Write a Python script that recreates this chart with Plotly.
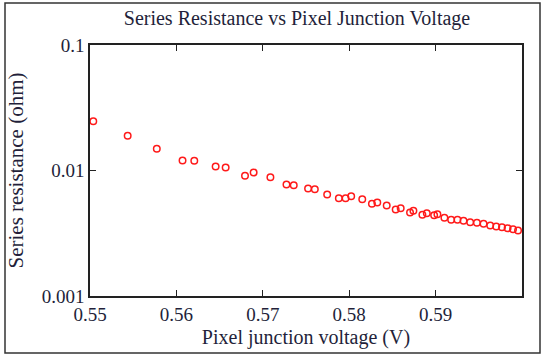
import plotly.graph_objects as go

voltage = [0.55038, 0.55436, 0.55773, 0.56071, 0.56207, 0.56454, 0.56570, 0.56794, 0.56894,
           0.57088, 0.57274, 0.57358, 0.57524, 0.57602, 0.57745, 0.57880, 0.57958, 0.58023,
           0.58151, 0.58263, 0.58325, 0.58434, 0.58538, 0.58596, 0.58704, 0.58743, 0.58847,
           0.58898, 0.58983, 0.59021, 0.59102, 0.59180, 0.59253, 0.59323, 0.59400, 0.59478,
           0.59555, 0.59632, 0.59702, 0.59768, 0.59833, 0.59896, 0.59954]
resistance = [0.0247, 0.0189, 0.0149, 0.0120, 0.01195, 0.01076, 0.01057, 0.00907, 0.00964,
              0.00884, 0.00774, 0.00764, 0.00719, 0.00710, 0.00644, 0.00602, 0.00602, 0.00624,
              0.00591, 0.00543, 0.00556, 0.00526, 0.00489, 0.00501, 0.00463, 0.00477, 0.00444,
              0.00457, 0.00440, 0.00449, 0.00420, 0.00405, 0.00405, 0.00397, 0.00387, 0.00383,
              0.00376, 0.00365, 0.00358, 0.00353, 0.00347, 0.00341, 0.00333]

x_ticks = [0.55, 0.56, 0.57, 0.58, 0.59]
x_ticklabels = ["0.55", "0.56", "0.57", "0.58", "0.59"]
y_ticks = [0.001, 0.01, 0.1]
y_ticklabels = ["0.001", "0.01", "0.1"]

txt = "#231f3a"
serif = "Liberation Serif"

fig = go.Figure()
fig.add_trace(go.Scatter(
    x=voltage, y=resistance, mode="markers",
    marker=dict(symbol="circle-open", size=6.5, color="#ff1a1a", line=dict(width=1.5, color="#ff1a1a")),
    showlegend=False, cliponaxis=False,
))

fig.update_layout(
    width=543, height=356,
    margin=dict(l=90, r=21, t=45, b=60),
    paper_bgcolor="white", plot_bgcolor="white",
    title=dict(text="Series Resistance vs Pixel Junction Voltage", x=297 / 543, xanchor="center",
               xref="container", y=1 - 18 / 356, yanchor="middle", yref="container",
               font=dict(family=serif, size=20, color=txt)),
    font=dict(family=serif, color=txt),
)
fig.update_xaxes(
    range=[0.55, 0.6], tickvals=x_ticks, ticktext=x_ticklabels,
    ticks="inside", ticklen=6, tickwidth=1.3, tickcolor="#222",
    showline=True, linecolor="#222", linewidth=1.5, mirror="ticks",
    showgrid=False, zeroline=False,
    tickfont=dict(family=serif, size=19, color=txt),
    title=dict(text="Pixel junction voltage (V)", font=dict(family=serif, size=20, color=txt), standoff=6),
)
fig.update_yaxes(
    type="log", range=[-3, -1], tickvals=y_ticks, ticktext=y_ticklabels,
    ticks="inside", ticklen=6, tickwidth=1.3, tickcolor="#222",
    showline=True, linecolor="#222", linewidth=1.5, mirror="ticks",
    showgrid=False, zeroline=False,
    tickfont=dict(family=serif, size=19, color=txt),
    title=dict(text="Series resistance (ohm)", font=dict(family=serif, size=21, color=txt), standoff=12),
)
fig.add_shape(type="rect", xref="paper", yref="paper",
              x0=(5 - 90) / 432, x1=(540 - 90) / 432,
              y0=(296 - 353) / 251, y1=(296 - 3) / 251,
              line=dict(color="#333", width=1.5), fillcolor="rgba(0,0,0,0)")

fig.write_html("out.html")
